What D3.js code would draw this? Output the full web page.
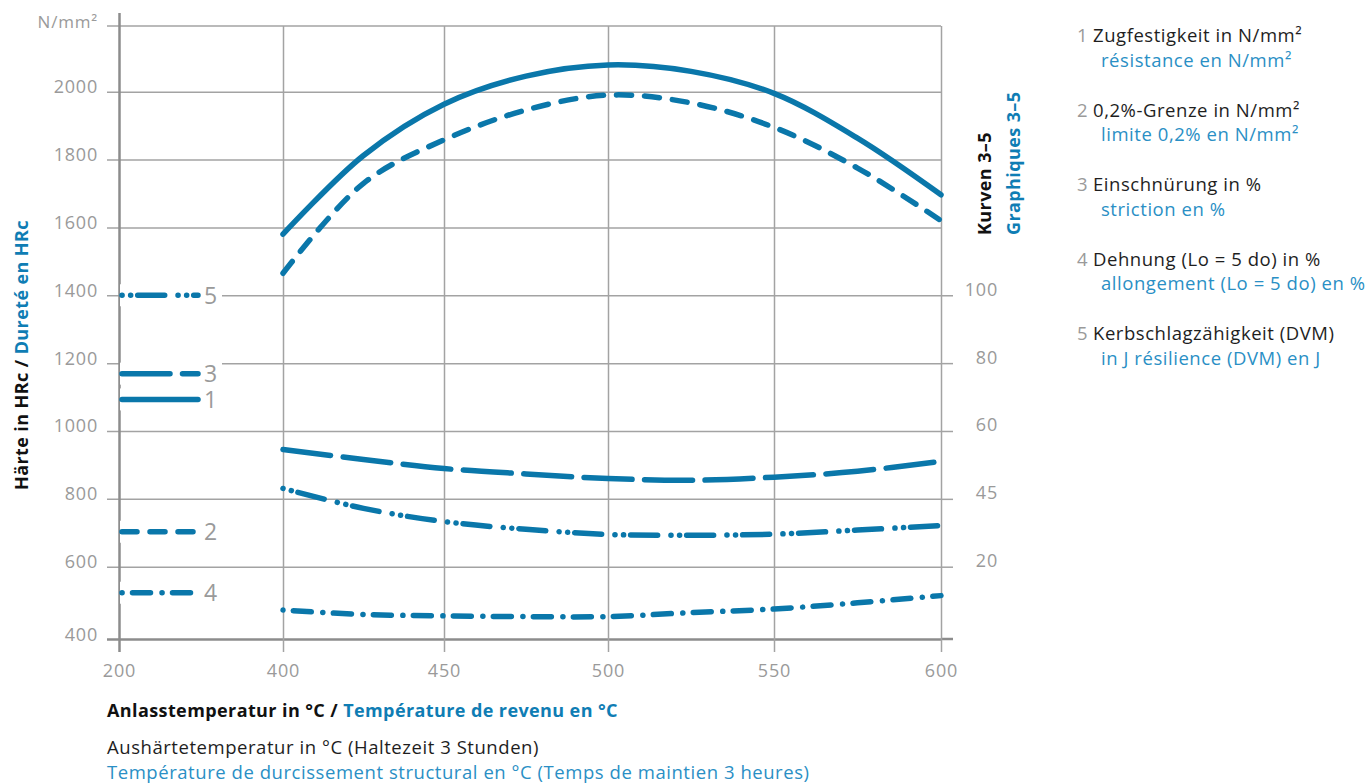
<!DOCTYPE html>
<html>
<head>
<meta charset="utf-8">
<script src="https://cdn.jsdelivr.net/npm/d3@7"></script>
<style>
  body { margin: 0; background: #fff; }
  svg text { font-family: "Open Sans", Lato, sans-serif; }
  .tick text, .unit { letter-spacing: 0.8px; }
  .reg { font-size: 18.5px; letter-spacing: 0.55px; }
  .bold { font-size: 18px; font-weight: bold; letter-spacing: 0.4px; }
</style>
</head>
<body>
<div id="chart"></div>
<script>
const width = 1367;
const height = 783;

// Anlasstemperatur in °C
const temps = [400, 425, 450, 475, 500, 525, 550, 575, 600];
// curves 1-2, N/mm² (left scale)
const zugfestigkeit = [1580, 1812, 1963, 2046, 2079, 2060, 1995, 1863, 1696];
const grenze = [1465, 1730, 1858, 1946, 1990, 1967, 1895, 1775, 1620];
// curves 3-5 (right scale)
const einschnuerung = [55.9, 53.7, 51.7, 50.5, 49.5, 49.1, 49.8, 51.1, 53.3];
const dehnung = [8.0, 6.8, 6.4, 6.2, 6.2, 7.3, 8.3, 10.0, 12.0];
const kerbschlag = [47.3, 41.5, 36.6, 33.8, 31.9, 31.6, 32.0, 33.5, 35.2];
// values at 200 °C (the short marks on the left), curves 1..5
const startValues = [1093, 703, 76.9, 12.8, 100];

const xTicks = [200, 400, 450, 500, 550, 600];
const leftTicks = [400, 600, 800, 1000, 1200, 1400, 1600, 1800, 2000];
const rightTicks = [20, 45, 60, 80, 100];
// where the right ticks sit on the left scale
const rightOnLeft = [600, 800, 1000, 1200, 1400];

const legendDe = ["Zugfestigkeit in N/mm²", "0,2%-Grenze in N/mm²", "Einschnürung in %", "Dehnung (Lo = 5 do) in %", "Kerbschlagzähigkeit (DVM)"];
const legendFr = ["résistance en N/mm²", "limite 0,2% en N/mm²", "striction en %", "allongement (Lo = 5 do) en %", "in J résilience (DVM) en J"];

const blue = "#0a77aa";
const blueText = "#0f7db4";
const blueLight = "#2a8fc5";
const gray = "#9a9a9a";
const gridColor = "#a3a3a3";
const axisColor = "#8c8c8c";
const frameTop = 26;

const svg = d3.select("#chart").append("svg")
  .attr("width", width)
  .attr("height", height);

const x = d3.scaleLinear()
  .domain([200, 400, 450, 500, 550, 600])
  .range([119, 283, 444, 608, 774, 941]);

const yLeft = d3.scaleLinear()
  .domain([400, 600, 2000])
  .range([639, 566.7, 91.7]);

const yRight = d3.scaleLinear()
  .domain([0].concat(rightTicks))
  .range([yLeft(400)].concat(rightOnLeft.map(yLeft)));

// top frame line
svg.append("line")
  .attr("x1", x(200) - 12).attr("x2", x(600))
  .attr("y1", frameTop).attr("y2", frameTop)
  .attr("stroke", gridColor).attr("stroke-width", 1.5);

// left axis + horizontal grid
const gLeft = svg.append("g")
  .attr("transform", `translate(${x(200)},0)`)
  .call(d3.axisLeft(yLeft).tickValues(leftTicks)
    .tickSizeInner(-(x(600) - x(200))).tickSizeOuter(0)
    .tickPadding(21).tickFormat(d3.format("d")));
gLeft.select(".domain").remove();
gLeft.attr("font-family", null).attr("font-size", null);
gLeft.selectAll(".tick line")
  .attr("x1", -12)
  .attr("stroke", (d) => (d === 400 ? axisColor : gridColor))
  .attr("stroke-width", (d) => (d === 400 ? 2.5 : 1.5));
gLeft.selectAll(".tick text")
  .attr("dy", null).attr("y", 1)
  .attr("fill", gray).style("font-size", "18px");

// right axis (curves 3-5)
const gRight = svg.append("g")
  .attr("transform", `translate(${x(600)},0)`)
  .call(d3.axisRight(yRight).tickValues(rightTicks).tickSize(12).tickPadding(45));
gRight.select(".domain").remove();
gRight.attr("font-family", null).attr("font-size", null);
gRight.selectAll(".tick line").attr("stroke", gridColor).attr("stroke-width", 1.5);
gRight.selectAll(".tick text")
  .attr("text-anchor", "end").attr("dy", null).attr("y", 0)
  .attr("fill", gray).style("font-size", "18px");
svg.append("line")
  .attr("x1", x(600)).attr("x2", x(600) + 12)
  .attr("y1", yLeft(400)).attr("y2", yLeft(400))
  .attr("stroke", axisColor).attr("stroke-width", 2.5);

// bottom axis + vertical grid
const gBottom = svg.append("g")
  .attr("transform", `translate(0,${yLeft(400)})`)
  .call(d3.axisBottom(x).tickValues(xTicks)
    .tickSizeInner(-(yLeft(400) - frameTop)).tickSizeOuter(0).tickPadding(38));
gBottom.select(".domain").remove();
gBottom.attr("font-family", null).attr("font-size", null);
gBottom.selectAll(".tick line")
  .attr("y1", 13)
  .attr("y2", (d) => (d === 200 ? -(yLeft(400) - 13) : -(yLeft(400) - frameTop)))
  .attr("stroke", (d) => (d === 200 ? axisColor : gridColor))
  .attr("stroke-width", (d) => (d === 200 ? 2.5 : 1.5));
gBottom.selectAll(".tick text")
  .attr("dy", null)
  .attr("fill", gray).style("font-size", "18px");

// unit label
svg.append("text")
  .attr("class", "unit")
  .attr("x", 98).attr("y", 28)
  .attr("text-anchor", "end")
  .attr("fill", gray).style("font-size", "17px")
  .text("N/mm²");

// curves
const curves = [
  { id: 1, values: zugfestigkeit, scale: yLeft },
  { id: 2, values: grenze, scale: yLeft },
  { id: 3, values: einschnuerung, scale: yRight },
  { id: 4, values: dehnung, scale: yRight },
  { id: 5, values: kerbschlag, scale: yRight },
];
const dashes = {
  1: null,
  2: "15 13",
  3: "48 12.5",
  4: "0.1 10.4 18 11.5",
  5: "0.1 8.5 0.1 7 27 13.3",
};

curves.forEach((c) => {
  const line = d3.line()
    .x((d, i) => x(temps[i]))
    .y((d) => c.scale(d))
    .curve(d3.curveCatmullRom.alpha(0.5));
  svg.append("path")
    .datum(c.values)
    .attr("d", line)
    .attr("fill", "none")
    .attr("stroke", blue)
    .attr("stroke-width", 5.5)
    .attr("stroke-linecap", "round")
    .attr("stroke-dasharray", dashes[c.id]);
});

// short marks at 200 °C with curve numbers
const keyLen = 78;
const keys = svg.append("g")
  .selectAll("g")
  .data(curves)
  .join("g")
  .attr("transform", (d, i) => `translate(${x(200) + 1},${d.scale(startValues[i])})`);
keys.append("rect")
  .attr("x", 0).attr("y", -11)
  .attr("width", keyLen + 24).attr("height", 22)
  .attr("fill", "#fff");
keys.append("line")
  .attr("x1", 2).attr("x2", keyLen)
  .attr("stroke", blue)
  .attr("stroke-width", 5.5)
  .attr("stroke-linecap", "round")
  .attr("stroke-dasharray", (d) => dashes[d.id]);
keys.append("text")
  .attr("x", keyLen + 6).attr("y", 8.5)
  .attr("fill", gray)
  .style("font-size", "23px")
  .text((d) => d.id);

// legend
const legend = svg.append("g")
  .selectAll("g")
  .data(legendDe)
  .join("g")
  .attr("transform", (d, i) => `translate(1077,${42 + i * 74.5})`);
legend.append("text")
  .attr("class", "reg")
  .attr("fill", gray)
  .text((d, i) => i + 1);
legend.append("text")
  .attr("class", "reg")
  .attr("x", 16)
  .attr("fill", "#1e1e1e")
  .text((d) => d);
legend.append("text")
  .attr("class", "reg")
  .attr("x", 24).attr("y", 24.5)
  .attr("fill", blueLight)
  .text((d, i) => legendFr[i]);

// axis titles
const yTitle = svg.append("text")
  .attr("class", "bold")
  .attr("transform", "translate(28,490) rotate(-90)");
yTitle.append("tspan").attr("fill", "#111").text("Härte in HRc / ");
yTitle.append("tspan").attr("fill", blueText).text("Dureté en HRc");

svg.append("text")
  .attr("class", "bold")
  .attr("transform", "translate(991,235) rotate(-90)")
  .attr("fill", "#111")
  .text("Kurven 3–5");
svg.append("text")
  .attr("class", "bold")
  .attr("transform", "translate(1020,235) rotate(-90)")
  .attr("fill", blueText)
  .text("Graphiques 3–5");

const xTitle = svg.append("text")
  .attr("class", "bold")
  .attr("x", 107).attr("y", 717);
xTitle.append("tspan").attr("fill", "#111").text("Anlasstemperatur in °C / ");
xTitle.append("tspan").attr("fill", blueText).text("Température de revenu en °C");

svg.append("text")
  .attr("class", "reg")
  .attr("x", 107).attr("y", 754)
  .attr("fill", "#1e1e1e")
  .text("Aushärtetemperatur in °C (Haltezeit 3 Stunden)");
svg.append("text")
  .attr("class", "reg")
  .attr("x", 107).attr("y", 779)
  .attr("fill", blueLight)
  .text("Température de durcissement structural en °C (Temps de maintien 3 heures)");
</script>
</body>
</html>
